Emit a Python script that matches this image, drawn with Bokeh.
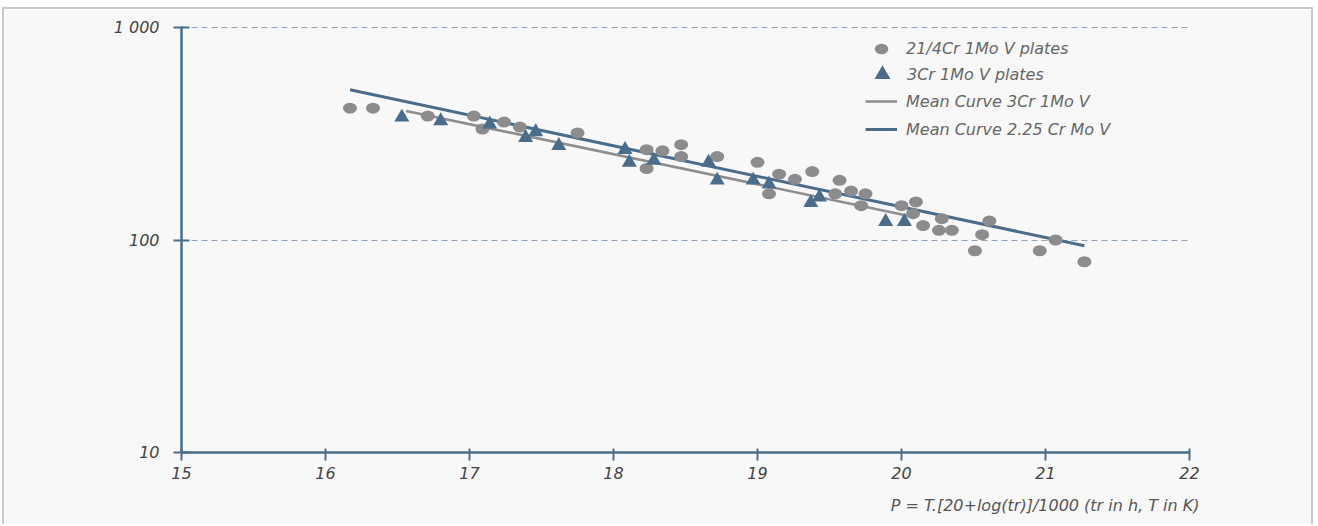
from bokeh.plotting import figure
from bokeh.models import FixedTicker, Legend, LegendItem, Title
from bokeh.embed import file_html
from bokeh.resources import INLINE

# ---- data ----
circle_p = [16.17, 16.33, 16.71, 17.03, 17.09, 17.24, 17.35, 17.75, 18.23, 18.23,
            18.34, 18.47, 18.47, 18.72, 19.00, 19.08, 19.15, 19.26, 19.38, 19.54,
            19.57, 19.65, 19.72, 19.75, 20.00, 20.08, 20.10, 20.15, 20.26, 20.28,
            20.35, 20.51, 20.56, 20.61, 20.96, 21.07, 21.27]
circle_v = [417, 417, 383, 383, 333, 359, 340, 319, 266, 217,
            263, 281, 247, 247, 232, 165, 204, 193, 210, 165,
            191, 170, 145, 165, 145, 133, 151, 117, 111, 126,
            111, 89, 106, 123, 89, 100, 79]

tri_p = [16.53, 16.80, 17.14, 17.39, 17.46, 17.62, 18.08, 18.11, 18.28, 18.66,
         18.72, 18.97, 19.08, 19.37, 19.43, 19.89, 20.02]
tri_v = [378, 363, 351, 303, 323, 278, 266, 232, 237, 232,
         191, 191, 183, 150, 159, 122, 122]

mean_3cr_p = [16.56, 20.07]
mean_3cr_v = [405, 129]
mean_225_p = [16.17, 21.27]
mean_225_v = [509, 94]

x_ticks = [15, 16, 17, 18, 19, 20, 21, 22]
y_ticks = [10, 100, 1000]
y_tick_labels = {10: "10", 100: "100", 1000: "1 000"}
x_title = "P = T.[20+log(tr)]/1000 (tr in h, T in K)"
labels = ["21/4Cr 1Mo V plates", "3Cr 1Mo V plates",
          "Mean Curve 3Cr 1Mo V", "Mean Curve 2.25 Cr Mo V"]

# ---- style ----
FONT = "DejaVu Sans"
FS = "16px"
BLUE = "#4a6d8b"
GREY = "#8c8c8f"
GREYLINE = "#8e8e90"
AXIS = "#4b6e8c"
GRID = "#8fa4b6"
BG = "#f8f8f8"

p = figure(width=1311, height=517, x_range=(15, 22), y_range=(10, 1011),
           y_axis_type="log", output_backend="svg", toolbar_location=None,
           min_border_left=177, min_border_right=126, min_border_top=17,
           min_border_bottom=73,
           styles={"margin-left": "2px", "margin-top": "7px",
                   "border-top": "2px solid #c9c9c9",
                   "border-left": "2px solid #c9c9c9",
                   "border-right": "2px solid #c9c9c9"})
p.background_fill_color = BG
p.border_fill_color = BG
p.outline_line_color = None

# grids
p.xgrid.grid_line_color = None
p.ygrid.ticker = FixedTicker(ticks=y_ticks)
p.ygrid.grid_line_color = GRID
p.ygrid.grid_line_dash = "6 4"
p.ygrid.grid_line_width = 1.2
p.ygrid.minor_grid_line_color = None

# axes
for ax in (p.xaxis[0], p.yaxis[0]):
    ax.axis_line_color = AXIS
    ax.axis_line_width = 2.5
    ax.major_tick_line_color = AXIS
    ax.major_tick_line_width = 2
    ax.minor_tick_line_color = None
    ax.major_label_text_font = FONT
    ax.major_label_text_font_style = "italic"
    ax.major_label_text_font_size = FS
    ax.major_label_text_color = "#444444"

p.xaxis.ticker = FixedTicker(ticks=x_ticks)
p.xaxis.major_tick_in = 4
p.xaxis.major_tick_out = 8
p.xaxis.major_label_standoff = 6

p.yaxis.ticker = FixedTicker(ticks=y_ticks)
p.yaxis.major_label_overrides = y_tick_labels
p.yaxis.major_tick_in = 8
p.yaxis.major_tick_out = 8
p.yaxis.major_label_standoff = 14

# glyphs
r_g = p.line(mean_3cr_p, mean_3cr_v, line_color=GREYLINE, line_width=2.6)
r_b = p.line(mean_225_p, mean_225_v, line_color=BLUE, line_width=3)
r_c = p.ellipse(circle_p, circle_v, width=14, height=11, width_units="screen",
                height_units="screen", fill_color=GREY, line_color=None)
r_t = p.scatter(tri_p, tri_v, marker="triangle", size=15, fill_color=BLUE,
                line_color=None)

def mk_legend(items, loc, gw, gh, lh, standoff):
    lg = Legend(items=items, location=loc, glyph_width=gw, glyph_height=gh,
                label_height=lh, label_standoff=standoff, padding=0, margin=0,
                spacing=0, border_line_color=None, background_fill_alpha=0,
                label_text_font=FONT, label_text_font_style="italic",
                label_text_font_size=FS, label_text_color="#666666")
    p.add_layout(lg)
    return lg

mk_legend([LegendItem(label=labels[0], renderers=[r_c])], (684, 394), 32, 17, 17, 9)
mk_legend([LegendItem(label=labels[1], renderers=[r_t])], (681, 358), 40, 40, 40, 5)
mk_legend([LegendItem(label=labels[2], renderers=[r_g]),
           LegendItem(label=labels[3], renderers=[r_b])], (684, 309), 32, 28, 28, 9)

p.add_layout(Title(text=x_title, align="right", offset=-10, standoff=24,
                   text_font=FONT, text_font_style="italic", text_font_size=FS,
                   text_color="#555555"), "below")

open("out.html", "w").write(file_html(p, INLINE))
